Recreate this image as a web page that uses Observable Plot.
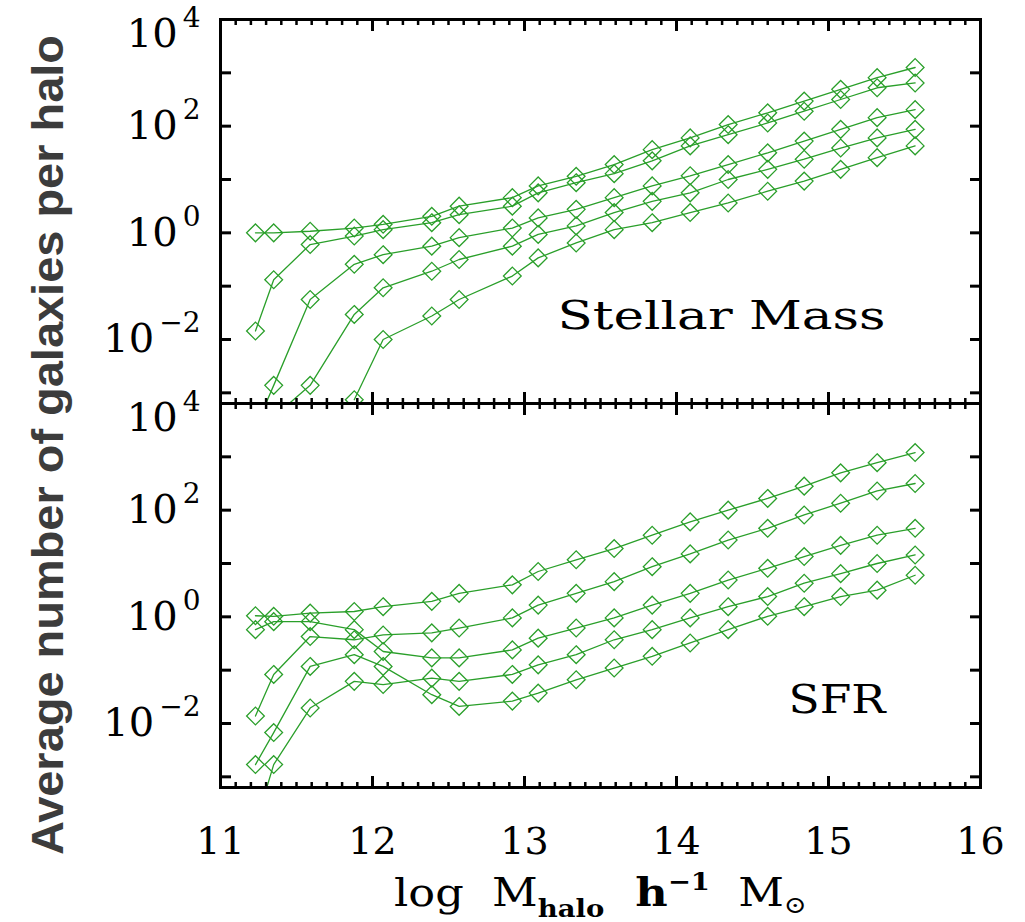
<!DOCTYPE html>
<html><head><meta charset="utf-8">
<script src="https://cdn.jsdelivr.net/npm/d3@7"></script>
<script src="https://cdn.jsdelivr.net/npm/@observablehq/plot@0.6"></script>
<style>body{margin:0;background:#fff}</style>
</head><body><div id="chart"></div>
<script>
// halo mass bins (log M_halo) shared by every series
const logMhalo = [11.23, 11.35, 11.59, 11.88, 12.07, 12.39, 12.57, 12.92, 13.09, 13.34, 13.59, 13.84, 14.09, 14.34, 14.60, 14.84, 15.08, 15.32, 15.57];
const panels = ["Stellar Mass", "SFR"];
const seriesNames = ["A", "B", "C", "D", "E"];

// log10 of average number of galaxies per halo (null = not drawn)
const stellarA = [0.00, 0.00, 0.03, 0.09, 0.16, 0.31, 0.50, 0.66, 0.88, 1.06, 1.28, 1.56, 1.78, 2.03, 2.25, 2.47, 2.69, 2.91, 3.10];
const stellarB = [-1.84, -0.88, -0.22, -0.06, 0.06, 0.19, 0.34, 0.50, 0.75, 0.94, 1.11, 1.35, 1.63, 1.84, 2.06, 2.28, 2.50, 2.72, 2.81];
const stellarC = [-3.65, -2.86, -1.25, -0.59, -0.41, -0.25, -0.09, 0.09, 0.28, 0.44, 0.66, 0.88, 1.07, 1.28, 1.50, 1.72, 1.94, 2.16, 2.31];
const stellarD = [null, -3.45, -2.86, -1.53, -1.03, -0.72, -0.50, -0.25, -0.03, 0.13, 0.38, 0.59, 0.75, 1.00, 1.19, 1.38, 1.59, 1.78, 1.94];
const stellarE = [null, null, null, -3.13, -2.00, -1.56, -1.25, -0.81, -0.47, -0.19, 0.06, 0.19, 0.38, 0.56, 0.78, 0.97, 1.19, 1.41, 1.63];

const sfrA = [0.02, 0.01, 0.07, 0.10, 0.19, 0.29, 0.44, 0.60, 0.85, 1.07, 1.28, 1.53, 1.78, 2.00, 2.22, 2.45, 2.70, 2.89, 3.08];
const sfrB = [-1.86, -1.08, -0.37, -0.43, -0.34, -0.30, -0.21, -0.02, 0.22, 0.44, 0.66, 0.94, 1.18, 1.44, 1.66, 1.91, 2.13, 2.36, 2.50];
const sfrC = [-0.24, -0.09, -0.09, -0.24, -0.65, -0.77, -0.77, -0.62, -0.40, -0.21, -0.02, 0.22, 0.44, 0.69, 0.91, 1.13, 1.34, 1.53, 1.66];
const sfrD = [-3.90, -2.77, -1.71, -1.21, -1.27, -1.15, -1.21, -1.08, -0.90, -0.71, -0.43, -0.24, -0.02, 0.19, 0.38, 0.63, 0.81, 1.00, 1.16];
const sfrE = [-2.77, -2.17, -0.93, -0.71, -0.93, -1.46, -1.68, -1.58, -1.43, -1.18, -0.96, -0.74, -0.49, -0.24, 0.01, 0.19, 0.38, 0.50, 0.78];

const xMajorTicks = [11, 12, 13, 14, 15, 16];
const xMinorTicks = [11.1,11.2,11.3,11.4,11.5,11.6,11.7,11.8,11.9,12.1,12.2,12.3,12.4,12.5,12.6,12.7,12.8,12.9,13.1,13.2,13.3,13.4,13.5,13.6,13.7,13.8,13.9,14.1,14.2,14.3,14.4,14.5,14.6,14.7,14.8,14.9,15.1,15.2,15.3,15.4,15.5,15.6,15.7,15.8,15.9];
const yTicks = [1e-3, 1e-2, 1e-1, 1, 10, 100, 1e3, 1e4];
const yLabelTicks = [1e-2, 1, 100];
const yTickLabels = ["10^−2", "10^0", "10^2"];
const yTopTick = [1e4];
const yTopTickLabel = "10^4";
const yLabel = "Average number of galaxies per halo";
const xLabel = "log Mhalo h-1 M⊙";

const table = [];
const bySeries = {
  "Stellar Mass": [stellarA, stellarB, stellarC, stellarD, stellarE],
  "SFR": [sfrA, sfrB, sfrC, sfrD, sfrE]
};
for (const p of panels) {
  bySeries[p].forEach((vals, si) => {
    vals.forEach((v, i) => {
      if (v !== null) table.push({panel: p, series: seriesNames[si], x: logMhalo[i], n: Math.pow(10, v)});
    });
  });
}
const panelLabels = panels.map(p => ({panel: p, text: p}));

const green = "#2a9f2a";
const serif = "'DejaVu Serif', 'Liberation Serif', serif";

const chart = Plot.plot({
  width: 1025,
  height: 922,
  marginTop: 18,
  marginLeft: 220,
  marginRight: 45,
  marginBottom: 135,
  style: {fontFamily: serif, fontSize: "36px", color: "#000", background: "#fff"},
  x: {domain: [11, 16]},
  y: {type: "log", domain: [Math.pow(10, -3.2), 1e4]},
  fy: {domain: panels, padding: 0, axis: null},
  marks: [
    Plot.line(table, {x: "x", y: "n", z: "series", fy: "panel", stroke: green, strokeWidth: 1.3, clip: true}),
    Plot.dot(table, {x: "x", y: "n", fy: "panel", symbol: "diamond2", r: 8, stroke: green, strokeWidth: 1.3, clip: true}),
    // inward ticks on all sides of each panel
    Plot.axisX(xMajorTicks, {anchor: "bottom", tickSize: -11, tickFormat: () => "", label: null, facetAnchor: null, strokeWidth: 3}),
    Plot.axisX(xMajorTicks, {anchor: "top", tickSize: -11, tickFormat: () => "", label: null, facetAnchor: null, strokeWidth: 3}),
    Plot.axisX(xMinorTicks, {anchor: "bottom", tickSize: -5, tickFormat: () => "", label: null, facetAnchor: null, strokeWidth: 2.5}),
    Plot.axisX(xMinorTicks, {anchor: "top", tickSize: -5, tickFormat: () => "", label: null, facetAnchor: null, strokeWidth: 2.5}),
    Plot.axisY(yTicks, {anchor: "left", tickSize: -11, tickFormat: () => "", label: null, facetAnchor: null, strokeWidth: 3}),
    Plot.axisY(yTicks, {anchor: "right", tickSize: -11, tickFormat: () => "", label: null, facetAnchor: null, strokeWidth: 3}),
    // tick labels
    Plot.axisY(yLabelTicks, {anchor: "left", tickSize: 0, tickPadding: 20, tickFormat: d => yTickLabels[yLabelTicks.indexOf(d)], label: null, facetAnchor: null, fontSize: 40}),
    Plot.axisY(yTopTick, {anchor: "left", tickSize: 0, tickPadding: 20, tickFormat: () => yTopTickLabel, label: null, facetAnchor: null, fontSize: 40, dy: 15}),
    Plot.axisX(xMajorTicks, {anchor: "bottom", tickSize: 0, tickPadding: 40, tickFormat: d => String(d), label: xLabel, labelAnchor: "center", labelOffset: 118, fontSize: 38}),
    Plot.frame({stroke: "#000", strokeWidth: 3}),
    Plot.text(panelLabels, {fy: "panel", text: "text", frameAnchor: "bottom-right", textAnchor: "end", lineAnchor: "bottom", dx: -95, dy: -75, fontSize: 40, fill: "#000"})
  ]
});
document.getElementById("chart").appendChild(chart);

const svg = chart.tagName.toLowerCase() === "svg" ? chart : chart.querySelector("svg");
const NS = "http://www.w3.org/2000/svg";

// widen panel labels to match the wide plotting font
svg.querySelectorAll("g[aria-label='text'] text").forEach(t => {
  const len = t.textContent === "SFR" ? 97 : 328;
  t.setAttribute("textLength", len);
  t.setAttribute("lengthAdjust", "spacingAndGlyphs");
});

// y tick labels: render exponent as superscript
svg.querySelectorAll("text").forEach(t => {
  const s = t.textContent;
  if (t.children.length === 0 && /^10\^/.test(s)) {
    const [base, exp] = s.split("^");
    t.textContent = "";
    const b = document.createElementNS(NS, "tspan");
    b.textContent = base;
    const e = document.createElementNS(NS, "tspan");
    e.textContent = exp;
    e.setAttribute("font-size", "28");
    e.setAttribute("dy", "-20");
    e.setAttribute("dx", "5");
    t.appendChild(b);
    t.appendChild(e);
  }
});

// x axis label with sub/superscripts
const xl = svg.querySelector("g[aria-label='x-axis label'] text");
if (xl) {
  xl.textContent = "";
  const parts = [
    {t: "log  M", fs: 39, dy: 0},
    {t: "halo", fs: 24, dy: 11, fw: "bold"},
    {t: "  h", fs: 39, dy: -11, fw: "bold"},
    {t: "−1", fs: 24, dy: -16, fw: "bold"},
    {t: "  M", fs: 39, dy: 16},
    {t: "⊙", fs: 24, dy: 7}
  ];
  for (const p of parts) {
    const ts = document.createElementNS(NS, "tspan");
    ts.textContent = p.t;
    ts.setAttribute("font-size", p.fs);
    ts.setAttribute("dy", p.dy);
    if (p.fw) ts.setAttribute("font-weight", p.fw);
    xl.appendChild(ts);
  }
  xl.setAttribute("xml:space", "preserve");
  xl.style.whiteSpace = "pre";
  xl.setAttribute("textLength", "413");
  xl.setAttribute("lengthAdjust", "spacingAndGlyphs");
}

// y axis label spanning both panels
const yl = document.createElementNS(NS, "text");
yl.setAttribute("transform", "translate(47,445) rotate(-90)");
yl.setAttribute("text-anchor", "middle");
yl.setAttribute("dominant-baseline", "central");
yl.setAttribute("font-family", "'Liberation Sans Narrow', 'Arial Narrow', 'Liberation Sans', sans-serif");
yl.setAttribute("font-weight", "bold");
yl.setAttribute("font-size", "44");
yl.setAttribute("fill", "#3c3c3c");
yl.setAttribute("textLength", "820");
yl.setAttribute("lengthAdjust", "spacingAndGlyphs");
yl.textContent = yLabel;
svg.appendChild(yl);
</script>
</body></html>
